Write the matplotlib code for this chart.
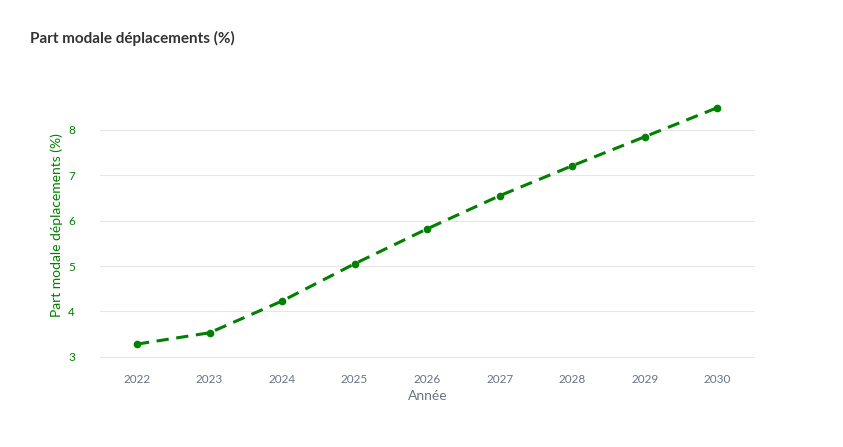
import matplotlib.pyplot as plt

years = [2022, 2023, 2024, 2025, 2026, 2027, 2028, 2029, 2030]
part_modale = [3.28, 3.53, 4.23, 5.05, 5.82, 6.55, 7.21, 7.85, 8.49]

plt.rcParams['font.family'] = ['Lato', 'DejaVu Sans']

fig = plt.figure(figsize=(8.43, 4.47), dpi=100)
ax = fig.add_axes([100 / 843, 87 / 447, 655 / 843, 270 / 447])

ax.plot(years, part_modale, color='green', linestyle='--', linewidth=2.2,
        marker='o', markersize=4.5, dashes=(4, 2.5))

ax.set_xlim(2021.49, 2030.52)
ax.set_ylim(2.93, 8.88)
ax.set_xticks(years)
ax.set_yticks([3, 4, 5, 6, 7, 8])
ax.grid(axis='y', color='#e6e6e6', linewidth=0.8)
ax.set_axisbelow(True)
for s in ax.spines.values():
    s.set_visible(False)
ax.tick_params(length=0, labelsize=8.5)
ax.tick_params(axis='x', colors='#6b7280', pad=10)
ax.tick_params(axis='y', colors='green', pad=18)

ax.set_xlabel('Année', color='#6b7280', fontsize=10)
ax.set_ylabel('Part modale déplacements (%)', color='green', fontsize=10)

fig.text(30 / 843, 1 - 38 / 447, 'Part modale déplacements (%)', fontsize=11,
         fontweight='bold', color='#333333', va='center')

fig.savefig('out.png')
